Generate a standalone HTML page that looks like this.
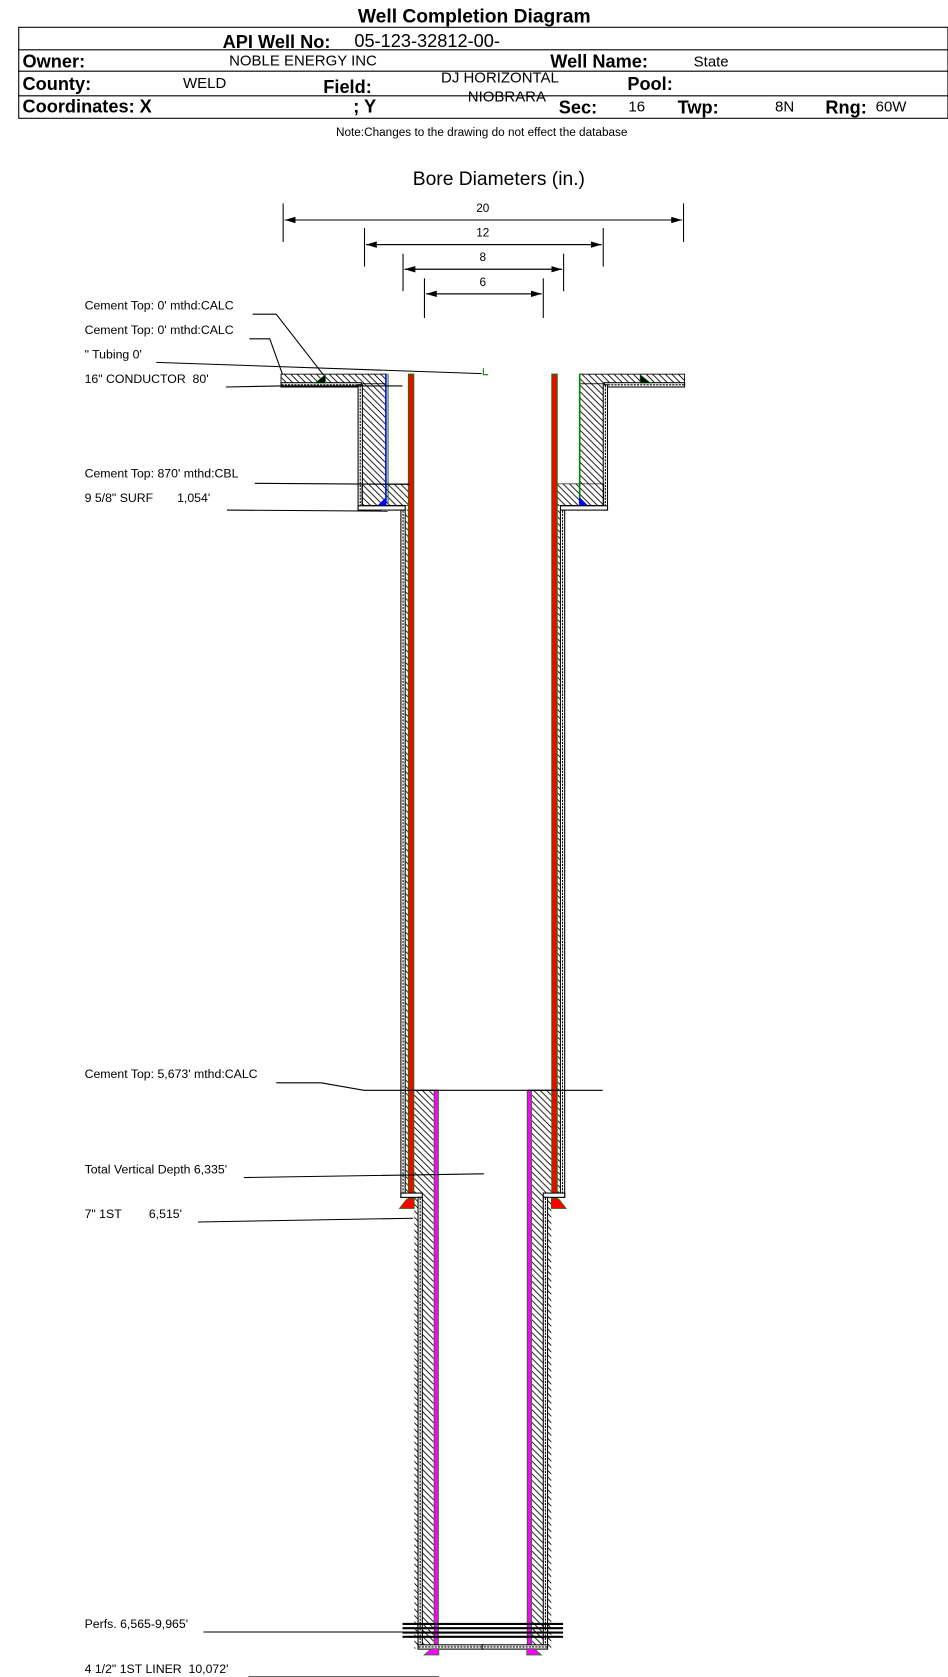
<!DOCTYPE html>
<html><head><meta charset="utf-8"><style>
html,body{margin:0;padding:0;background:#fff}
svg{display:block}
text{font-family:"Liberation Sans",Arial,sans-serif;white-space:pre}
</style></head><body>
<svg width="948" height="1677" viewBox="0 0 948 1677" xmlns="http://www.w3.org/2000/svg">
<defs>
<pattern id="h" patternUnits="userSpaceOnUse" width="6" height="6"><path d="M0,0L6,6M-1,5L1,7M5,-1L7,1" stroke="#000" stroke-width="0.8"/></pattern>
<pattern id="h2" patternUnits="userSpaceOnUse" width="6" height="6"><path d="M0,6L6,0M-1,1L1,-1M5,7L7,5" stroke="#000" stroke-width="0.8"/></pattern>
<marker id="a" markerWidth="10" markerHeight="6" refX="10" refY="3" orient="auto"><path d="M0,0L10,3L0,6z" fill="#000"/></marker>
</defs>
<g transform="scale(1.0705)">
<!-- Header -->
<text x="443" y="21" font-size="18" font-weight="bold" text-anchor="middle">Well Completion Diagram</text>
<rect x="17.5" y="25.5" width="868" height="85" fill="none" stroke="#000"/>
<line x1="17" y1="46.5" x2="886" y2="46.5" stroke="#000"/>
<line x1="17" y1="66.5" x2="886" y2="66.5" stroke="#000"/>
<line x1="17" y1="89.5" x2="886" y2="89.5" stroke="#000"/>
<text x="208" y="45" font-size="17" font-weight="bold">API Well No:</text>
<text x="331" y="44" font-size="17">05-123-32812-00-</text>
<text x="21" y="63" font-size="17" font-weight="bold">Owner:</text>
<text x="214" y="61" font-size="14">NOBLE ENERGY INC</text>
<text x="514" y="63" font-size="17" font-weight="bold">Well Name:</text>
<text x="648" y="62" font-size="14">State</text>
<text x="21" y="84" font-size="17" font-weight="bold">County:</text>
<text x="171" y="82" font-size="14">WELD</text>
<text x="302" y="87" font-size="17" font-weight="bold">Field:</text>
<text x="412" y="77" font-size="14">DJ HORIZONTAL</text>
<text x="437" y="95" font-size="14">NIOBRARA</text>
<text x="586" y="84" font-size="17" font-weight="bold">Pool:</text>
<text x="21" y="105" font-size="17" font-weight="bold">Coordinates: X</text>
<text x="330" y="105" font-size="17" font-weight="bold">; Y</text>
<text x="522" y="106" font-size="17" font-weight="bold">Sec:</text>
<text x="587" y="104" font-size="14">16</text>
<text x="633" y="106" font-size="17" font-weight="bold">Twp:</text>
<text x="724" y="104" font-size="14">8N</text>
<text x="771" y="106" font-size="17" font-weight="bold">Rng:</text>
<text x="818" y="104" font-size="14">60W</text>
<text x="450" y="127" font-size="11" text-anchor="middle">Note:Changes to the drawing do not effect the database</text>

<!-- Bore diameters -->
<text x="466" y="173" font-size="18" text-anchor="middle">Bore Diameters (in.)</text>
<g stroke="#000" stroke-width="1">
<line x1="264.5" y1="190" x2="264.5" y2="226"/><line x1="638.5" y1="190" x2="638.5" y2="226"/>
<line x1="266" y1="205.5" x2="637" y2="205.5" marker-end="url(#a)"/><line x1="637" y1="205.5" x2="266" y2="205.5" marker-end="url(#a)"/>
<line x1="340.5" y1="213" x2="340.5" y2="249"/><line x1="563.5" y1="213" x2="563.5" y2="249"/>
<line x1="342" y1="228.5" x2="562" y2="228.5" marker-end="url(#a)"/><line x1="562" y1="228.5" x2="342" y2="228.5" marker-end="url(#a)"/>
<line x1="376.5" y1="237" x2="376.5" y2="272"/><line x1="526.5" y1="237" x2="526.5" y2="272"/>
<line x1="378" y1="251.5" x2="525" y2="251.5" marker-end="url(#a)"/><line x1="525" y1="251.5" x2="378" y2="251.5" marker-end="url(#a)"/>
<line x1="396.5" y1="260" x2="396.5" y2="297"/><line x1="507.5" y1="260" x2="507.5" y2="297"/>
<line x1="398" y1="274.5" x2="506" y2="274.5" marker-end="url(#a)"/><line x1="506" y1="274.5" x2="398" y2="274.5" marker-end="url(#a)"/>
</g>
<g font-size="11" text-anchor="middle">
<text x="451" y="198">20</text><text x="451" y="221">12</text><text x="451" y="244">8</text><text x="451" y="267">6</text>
</g>

<!-- Wellbore left -->
<g>
<rect x="262.5" y="349.5" width="98" height="9" fill="url(#h)" stroke="#000" stroke-width="0.8"/>
<rect x="262.5" y="357.5" width="75" height="4" fill="#fff" stroke="#000"/>
<line x1="263" y1="359.5" x2="337" y2="359.5" stroke="#000" stroke-dasharray="2,1"/>
<rect x="338" y="358" width="22" height="94" fill="url(#h)"/>
<rect x="334.5" y="359.5" width="4" height="117" fill="#fff" stroke="#000"/>
<line x1="336.5" y1="360" x2="336.5" y2="476" stroke="#000" stroke-dasharray="2,1"/>
<rect x="338" y="452" width="45" height="20" fill="url(#h)" stroke="#000" stroke-width="0.6"/>
<rect x="334.5" y="472.5" width="44" height="4" fill="#fff" stroke="#000"/>
<rect x="374.5" y="476.5" width="4" height="642" fill="#fff" stroke="#000"/>
<line x1="376.5" y1="477" x2="376.5" y2="1118" stroke="#000" stroke-dasharray="2,1"/>
<rect x="379" y="476" width="2" height="642" fill="url(#h)"/>
<line x1="360.5" y1="349" x2="360.5" y2="470" stroke="#0000ff" stroke-width="1.5"/>
<line x1="362.5" y1="349" x2="362.5" y2="470" stroke="#008000" stroke-width="1"/>
<rect x="381.5" y="349.5" width="5" height="771" fill="#ff0000" stroke="#008000" stroke-width="1"/>
<rect x="387" y="1018" width="18" height="522" fill="url(#h)"/>
<line x1="386" y1="1018.5" x2="409" y2="1018.5" stroke="#000"/>
<rect x="374.5" y="1114.5" width="20" height="4" fill="#fff" stroke="#000"/>
<rect x="390.5" y="1118.5" width="4" height="420" fill="#fff" stroke="#000"/>
<line x1="392.5" y1="1119" x2="392.5" y2="1538" stroke="#000" stroke-dasharray="2,1"/>
<rect x="405.5" y="1018.5" width="4" height="522" fill="#ff00ff" stroke="#008000" stroke-width="0.8"/>
<rect x="390.5" y="1536.5" width="61" height="4" fill="#fff" stroke="#000"/>
<line x1="391" y1="1538.5" x2="451" y2="1538.5" stroke="#000" stroke-dasharray="2,1"/>
<polygon points="294,358 304,358 304,350" fill="#000" stroke="#008000" stroke-width="0.6"/>
<polygon points="353,472 361,472 361,464" fill="#0000ff"/>
<polygon points="373,1129 387,1129 387,1120 380,1120" fill="#ff0000" stroke="#008000" stroke-width="0.6"/>
<polygon points="396,1546 410,1546 410,1540 403,1540" fill="#ff00ff" stroke="#008000" stroke-width="0.6"/>
</g>

<!-- Wellbore right (mirror) -->
<g transform="translate(902,0) scale(-1,1)">
<rect x="262.5" y="349.5" width="98" height="9" fill="url(#h2)" stroke="#000" stroke-width="0.8"/>
<rect x="262.5" y="357.5" width="75" height="4" fill="#fff" stroke="#000"/>
<line x1="263" y1="359.5" x2="337" y2="359.5" stroke="#000" stroke-dasharray="2,1"/>
<rect x="338" y="358" width="22" height="94" fill="url(#h2)"/>
<rect x="334.5" y="359.5" width="4" height="117" fill="#fff" stroke="#000"/>
<line x1="336.5" y1="360" x2="336.5" y2="476" stroke="#000" stroke-dasharray="2,1"/>
<rect x="338" y="452" width="45" height="20" fill="url(#h2)" stroke="#000" stroke-width="0.6"/>
<rect x="334.5" y="472.5" width="44" height="4" fill="#fff" stroke="#000"/>
<rect x="374.5" y="476.5" width="4" height="642" fill="#fff" stroke="#000"/>
<line x1="376.5" y1="477" x2="376.5" y2="1118" stroke="#000" stroke-dasharray="2,1"/>
<rect x="379" y="476" width="2" height="642" fill="url(#h2)"/>
<line x1="360.5" y1="349" x2="360.5" y2="470" stroke="#008000" stroke-width="1.5"/>
<rect x="381.5" y="349.5" width="5" height="771" fill="#ff0000" stroke="#008000" stroke-width="1"/>
<rect x="387" y="1018" width="18" height="522" fill="url(#h2)"/>
<line x1="386" y1="1018.5" x2="409" y2="1018.5" stroke="#000"/>
<rect x="374.5" y="1114.5" width="20" height="4" fill="#fff" stroke="#000"/>
<rect x="390.5" y="1118.5" width="4" height="420" fill="#fff" stroke="#000"/>
<line x1="392.5" y1="1119" x2="392.5" y2="1538" stroke="#000" stroke-dasharray="2,1"/>
<rect x="405.5" y="1018.5" width="4" height="522" fill="#ff00ff" stroke="#008000" stroke-width="0.8"/>
<rect x="390.5" y="1536.5" width="61" height="4" fill="#fff" stroke="#000"/>
<line x1="391" y1="1538.5" x2="451" y2="1538.5" stroke="#000" stroke-dasharray="2,1"/>
<polygon points="294,358 304,358 304,350" fill="#000" stroke="#008000" stroke-width="0.6"/>
<polygon points="353,472 361,472 361,464" fill="#0000ff"/>
<polygon points="373,1129 387,1129 387,1120 380,1120" fill="#ff0000" stroke="#008000" stroke-width="0.6"/>
<polygon points="396,1546 410,1546 410,1540 403,1540" fill="#ff00ff" stroke="#008000" stroke-width="0.6"/>
</g>

<path d="M451.5,344V350H456" stroke="#008000" fill="none"/>

<g stroke="#000" stroke-width="2">
<line x1="376" y1="1517" x2="526" y2="1517"/>
<line x1="376" y1="1521" x2="526" y2="1521"/>
<line x1="376" y1="1525" x2="526" y2="1525"/>
<line x1="376" y1="1529" x2="526" y2="1529"/>
</g>

<g stroke="#000" stroke-width="1" fill="none">
<polyline points="236,293.5 258,293.5 302,350"/>
<polyline points="233,316.5 252,316.5 264,350"/>
<polyline points="146,338.5 450,349"/>
<polyline points="211,361.5 262,360.5 376,360.5"/>
<polyline points="238,451.5 383,452.5"/>
<polyline points="212,476.5 362,477.5"/>
<polyline points="258,1011.5 300,1011.5 340,1018.5 563,1018.5"/>
<polyline points="228,1100 452,1096.5"/>
<polyline points="185,1141.5 386,1138"/>
<polyline points="190,1524.5 376,1524.5"/>
<polyline points="232,1566.5 410,1566.5"/>
</g>

<g font-size="11.5">
<text x="79" y="289">Cement Top: 0' mthd:CALC</text>
<text x="79" y="312">Cement Top: 0' mthd:CALC</text>
<text x="79" y="335">" Tubing 0'</text>
<text x="79" y="358">16" CONDUCTOR  80'</text>
<text x="79" y="446">Cement Top: 870' mthd:CBL</text>
<text x="79" y="469">9 5/8" SURF       1,054'</text>
<text x="79" y="1007">Cement Top: 5,673' mthd:CALC</text>
<text x="79" y="1096">Total Vertical Depth 6,335'</text>
<text x="79" y="1138">7" 1ST        6,515'</text>
<text x="79" y="1521">Perfs. 6,565-9,965'</text>
<text x="79" y="1563">4 1/2" 1ST LINER  10,072'</text>
</g>
</g>
</svg>
</body></html>
